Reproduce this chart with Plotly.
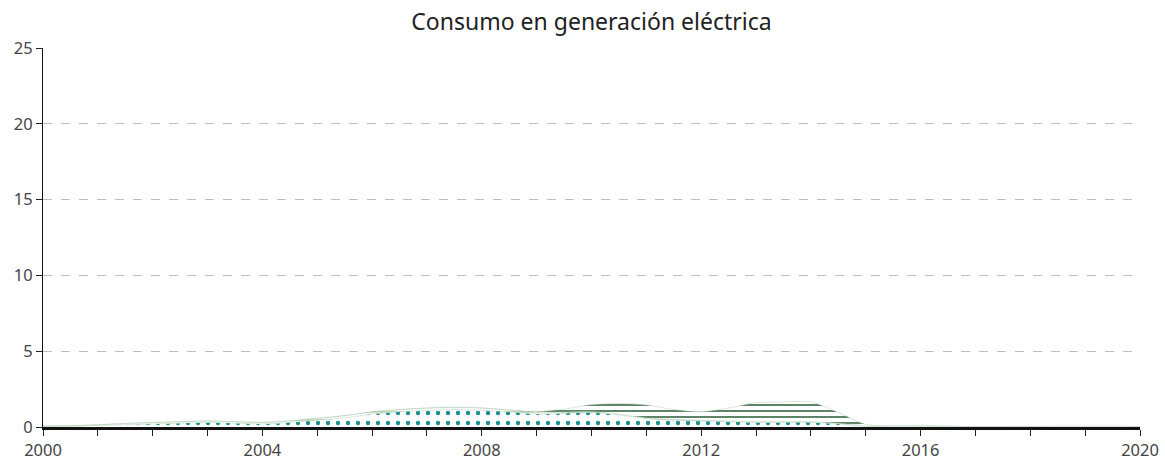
import plotly.graph_objects as go

years = [2000 + 0.5 * i for i in range(41)]

termica_teal = [0.05, 0.05, 0.1, 0.15, 0.2, 0.25, 0.3, 0.25, 0.2, 0.3,
                0.45, 0.6, 0.85, 1.0, 1.1, 1.15, 1.1, 1.0, 0.85, 0.9,
                0.95, 0.8, 0.55, 0.45, 0.4, 0.35, 0.3, 0.3, 0.3, 0.2,
                0.05, 0, 0, 0, 0, 0, 0, 0, 0, 0, 0]

capa_clara = [0.02, 0.03, 0.05, 0.08, 0.1, 0.1, 0.1, 0.1, 0.1, 0.1,
              0.12, 0.15, 0.15, 0.15, 0.15, 0.15, 0.15, 0.12, 0.1, 0.08,
              0.06, 0.05, 0.05, 0.05, 0.05, 0.05, 0.05, 0.05, 0.05, 0.05,
              0.02, 0.02, 0.05, 0.02, 0, 0, 0, 0, 0, 0, 0]

ciclo_oscuro = [0, 0, 0, 0, 0, 0, 0, 0, 0, 0,
                0, 0, 0, 0, 0, 0, 0, 0, 0.05, 0.2,
                0.45, 0.7, 0.85, 0.65, 0.55, 0.85, 1.25, 1.3, 1.3, 0.7,
                0.1, 0.08, 0.06, 0.05, 0.02, 0.02, 0.03, 0.06, 0.06, 0.06, 0.03]

series = [
    ("Serie 1", termica_teal, "#1a8f8f", ".", 10, 0.15),
    ("Serie 2", capa_clara, "#a3c99e", "-", 8, 0.15),
    ("Serie 3", ciclo_oscuro, "#0a4519", "-", 6, 0.22),
]

fig = go.Figure()
for name, vals, col, shp, sz, sol in series:
    fig.add_trace(go.Scatter(
        x=years, y=vals, name=name, mode="lines", stackgroup="one",
        line=dict(color="rgba(160,190,160,0.55)", width=0.7, shape="spline", smoothing=0.8),
        fillcolor="white",
        fillpattern=dict(shape=shp, fgcolor=col, bgcolor="white", fgopacity=1,
                         size=sz, solidity=sol),
    ))

tickvals = list(range(2000, 2021))
ticktext = [str(y) if y % 4 == 0 else "" for y in tickvals]

fig.update_layout(
    width=1165, height=462,
    margin=dict(l=43, r=25, t=48, b=35, autoexpand=False),
    paper_bgcolor="white", plot_bgcolor="white",
    showlegend=False,
    title=dict(text="Consumo en generación eléctrica", x=0.5, xanchor="center",
               xref="paper", y=1 - 22 / 462, yref="container", yanchor="middle",
               font=dict(family="Noto Sans", size=23, color="#222")),
    font=dict(family="Noto Sans", size=16, color="#444"),
)
fig.update_xaxes(range=[2000, 2020], tickvals=tickvals, ticktext=ticktext,
                 showgrid=False, showline=True, linecolor="#111", linewidth=2.5,
                 ticks="outside", ticklen=6, tickcolor="#222", tickwidth=1,
                 zeroline=False, automargin=False,
                 tickfont=dict(size=16.5, color="#444"))
fig.update_yaxes(range=[0, 25], tickvals=[0, 5, 10, 15, 20, 25],
                 showgrid=True, gridcolor="#bdbdbd", griddash="dash", gridwidth=1,
                 showline=True, linecolor="#111", linewidth=1.2,
                 ticks="outside", ticklen=6, tickcolor="#222",
                 zeroline=False, automargin=False,
                 tickfont=dict(size=16.5, color="#444"))

fig.write_html("out.html", config={"displayModeBar": False},
               post_script="document.body.style.margin='0';document.body.style.overflow='hidden';")
